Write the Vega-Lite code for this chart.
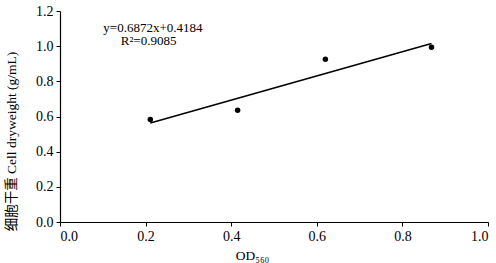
{
  "$schema": "https://vega.github.io/schema/vega-lite/v6.json",
  "width": 428,
  "height": 211,
  "autosize": {"type": "none"},
  "padding": {"left": 60, "top": 11, "right": 8, "bottom": 41},
  "background": "white",
  "config": {
    "view": {"stroke": null},
    "font": "Liberation Serif",
    "axis": {
      "grid": false,
      "domainColor": "black",
      "domainWidth": 1.2,
      "tickColor": "black",
      "tickSize": 4,
      "labelFont": "Liberation Serif",
      "labelFontSize": 14,
      "labelColor": "black",
      "titleFont": "Liberation Serif, Noto Sans CJK SC",
      "titleFontSize": 13.5,
      "titleFontWeight": "normal",
      "titleColor": "black"
    }
  },
  "datasets": {
    "pts": [
      {"od": 0.211, "w": 0.583},
      {"od": 0.415, "w": 0.635},
      {"od": 0.62, "w": 0.925},
      {"od": 0.868, "w": 0.994}
    ],
    "fit": [
      {"od": 0.211, "w": 0.5634},
      {"od": 0.868, "w": 1.0149}
    ],
    "ann": [
      {"od": 0.217, "w": 1.105, "t": "y=0.6872x+0.4184"},
      {"od": 0.207, "w": 1.028, "t": "R²=0.9085"}
    ]
  },
  "layer": [
    {
      "data": {"name": "fit"},
      "mark": {"type": "line", "color": "black", "strokeWidth": 1.6},
      "encoding": {
        "x": {"field": "od", "type": "quantitative", "scale": {"domain": [0, 1]},
              "axis": {"tickCount": 5, "format": ".1f", "title": "OD₅₆₀", "labelPadding": 3, "titlePadding": 5, "labelOverlap": false, "titleX": 192}},
        "y": {"field": "w", "type": "quantitative", "scale": {"domain": [0, 1.2]},
              "axis": {"tickCount": 6, "format": ".1f", "title": "细胞干重  Cell dryweight (g/mL)", "labelPadding": 3, "titlePadding": 17, "labelOverlap": false, "labelBound": false, "titleY": 130}}
      }
    },
    {
      "data": {"name": "pts"},
      "mark": {"type": "point", "filled": true, "color": "black", "size": 30, "opacity": 1},
      "encoding": {
        "x": {"field": "od", "type": "quantitative"},
        "y": {"field": "w", "type": "quantitative"}
      }
    },
    {
      "data": {"name": "ann"},
      "mark": {"type": "text", "font": "Liberation Serif", "fontSize": 13, "color": "black", "align": "center", "baseline": "middle"},
      "encoding": {
        "x": {"field": "od", "type": "quantitative"},
        "y": {"field": "w", "type": "quantitative"},
        "text": {"field": "t"}
      }
    }
  ]
}
